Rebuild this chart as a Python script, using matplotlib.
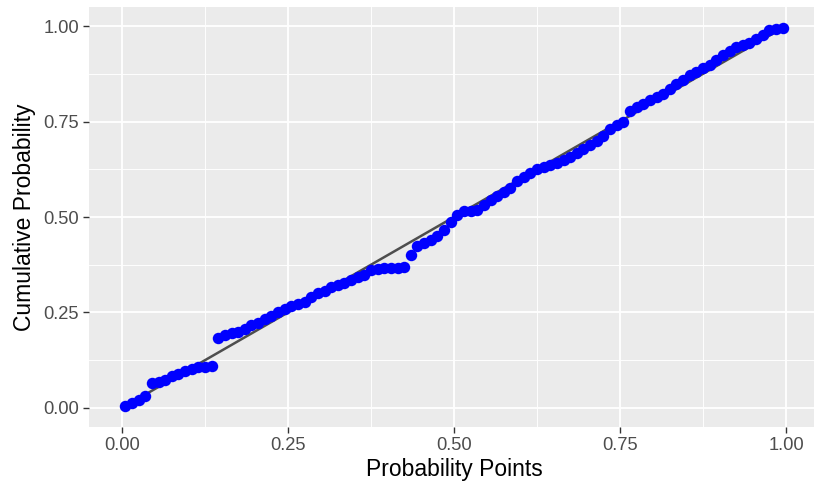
import matplotlib
matplotlib.use("Agg")
import matplotlib.pyplot as plt
import numpy as np

plt.rcParams['font.family'] = ['Liberation Sans', 'DejaVu Sans']

# Theoretical probability points (ppoints for n = 100)
n_points = 100
prob_points = (np.arange(1, n_points + 1) - 0.5) / n_points

# Fitted cumulative probabilities of the sorted sample
cum_prob = [
    0.004, 0.012, 0.020, 0.030, 0.066, 0.068, 0.074, 0.083, 0.090, 0.097,
    0.102, 0.106, 0.108, 0.109, 0.184, 0.191, 0.196, 0.199, 0.206, 0.216,
    0.222, 0.232, 0.241, 0.252, 0.260, 0.266, 0.271, 0.278, 0.290, 0.300,
    0.306, 0.316, 0.323, 0.327, 0.334, 0.342, 0.349, 0.362, 0.365, 0.366,
    0.366, 0.367, 0.370, 0.400, 0.424, 0.432, 0.440, 0.451, 0.466, 0.486,
    0.506, 0.515, 0.517, 0.519, 0.532, 0.544, 0.556, 0.566, 0.576, 0.594,
    0.605, 0.616, 0.625, 0.630, 0.636, 0.642, 0.650, 0.657, 0.667, 0.679,
    0.689, 0.700, 0.712, 0.730, 0.740, 0.750, 0.778, 0.788, 0.797, 0.806,
    0.814, 0.823, 0.836, 0.849, 0.859, 0.871, 0.880, 0.889, 0.897, 0.910,
    0.924, 0.935, 0.946, 0.950, 0.955, 0.966, 0.976, 0.990, 0.993, 0.995,
]

# Reference line y = x
ref_x = [0.0, 1.0]
ref_y = [0.0, 1.0]

tick_vals = [0.00, 0.25, 0.50, 0.75, 1.00]
tick_labels = ["0.00", "0.25", "0.50", "0.75", "1.00"]
minor_vals = [0.125, 0.375, 0.625, 0.875]

W, H = 814, 492
fig = plt.figure(figsize=(W / 100, H / 100), dpi=100)
left_px, right_px = 88.8, 819.2
top_px, bottom_px = 7.0, 427.0
ax = fig.add_axes([left_px / W, 1 - bottom_px / H,
                   (right_px - left_px) / W, (bottom_px - top_px) / H])

ax.set_facecolor('#EBEBEB')
for s in ax.spines.values():
    s.set_visible(False)

ax.set_xlim(-0.05, 1.05)
ax.set_ylim(-0.05, 1.05)

ax.set_xticks(tick_vals)
ax.set_xticklabels(tick_labels)
ax.set_yticks(tick_vals)
ax.set_yticklabels(tick_labels)
ax.set_xticks(minor_vals, minor=True)
ax.set_yticks(minor_vals, minor=True)

ax.grid(which='major', color='white', linewidth=1.3)
ax.grid(which='minor', color='white', linewidth=0.65)
ax.set_axisbelow(True)

ax.tick_params(which='major', length=4, width=1.0, color='#333333',
               labelcolor='#4D4D4D', labelsize=13.2, pad=3)
ax.tick_params(which='minor', length=0)

ax.plot(ref_x, ref_y, color='#4D4D4D', linewidth=1.8, zorder=2)
ax.scatter(prob_points, cum_prob, s=68, color='#0000FF', linewidths=0,
           zorder=3)

ax.set_xlabel("Probability Points", fontsize=16.5, color='black', labelpad=3)
ax.set_ylabel("Cumulative Probability", fontsize=16.5, color='black',
              labelpad=5)

fig.savefig("out.png", dpi=100)
